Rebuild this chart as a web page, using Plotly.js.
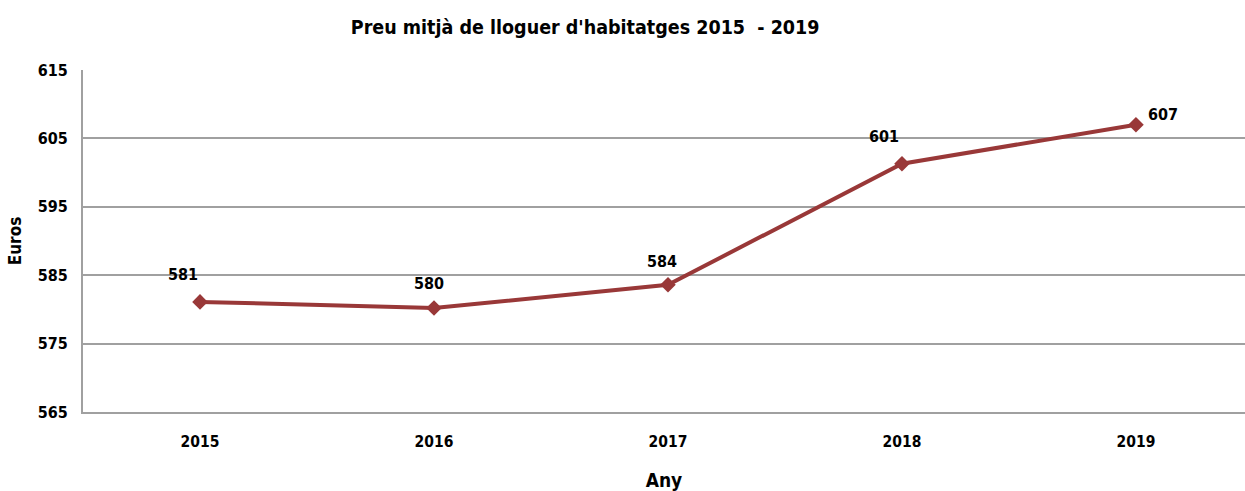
<!DOCTYPE html>
<html>
<head>
<meta charset="utf-8">
<script src="https://cdn.plot.ly/plotly-3.0.1.min.js"></script>
<style>
  html, body { margin: 0; padding: 0; background: white; }
  #chart { width: 1245px; height: 491px; }
</style>
</head>
<body>
<div id="chart"></div>
<script>
// Preu mitjà de lloguer (euros), llegit del gràfic
const years = ['2015', '2016', '2017', '2018', '2019'];
const rent = [581.1, 580.2, 583.6, 601.3, 607.0];
const yTicks = [565, 575, 585, 595, 605, 615];
// label offsets in px (x right, y up) relative to each point
const labelDx = [-17, -5, -6, -18, 27];
const labelDy = [27, 25, 23, 27, 10];

const FONT = '"DejaVu Sans Condensed", "Liberation Sans", Arial, sans-serif';
const LINE_COLOR = '#993838';
const GRID = '#a0a0a0';

const data = [{
  type: 'scatter',
  mode: 'lines+markers',
  x: years,
  y: rent,
  line: { color: LINE_COLOR, width: 4 },
  marker: { symbol: 'diamond', size: 12, color: LINE_COLOR },
  cliponaxis: false,
  hoverinfo: 'skip',
}];

// category axis: annotations use the category index
const annotations = years.map((yr, i) => ({
  x: i,
  y: rent[i],
  xref: 'x',
  yref: 'y',
  text: '<b>' + Math.round(rent[i]) + '</b>',
  showarrow: false,
  xshift: labelDx[i],
  yshift: labelDy[i],
  font: { family: FONT, size: 16, color: '#000' },
}));

const layout = {
  width: 1245,
  height: 491,
  font: { family: FONT, color: '#000', size: 15 },
  paper_bgcolor: 'white',
  plot_bgcolor: 'white',
  showlegend: false,
  margin: { t: 70, r: 0, b: 79, l: 83 },
  annotations: annotations,
  title: {
    text: "<b>Preu mitjà de lloguer d'habitatges 2015  - 2019</b>",
    font: { family: FONT, size: 19.5 },
    x: 0.47, xanchor: 'center',
    y: 0.945, yanchor: 'middle',
  },
  xaxis: {
    type: 'category',
    range: [-0.5, 4.466],
    showgrid: false,
    showline: true,
    linecolor: GRID,
    linewidth: 2,
    zeroline: false,
    ticks: '',
    ticklabelstandoff: 14,
    tickfont: { family: FONT, size: 15.5 },
    tickprefix: '<b>', ticksuffix: '</b>',
    title: { text: '<b>Any</b>', font: { family: FONT, size: 19 }, standoff: 26 },
  },
  yaxis: {
    range: [565, 615],
    tickvals: yTicks,
    ticktext: yTicks.map(v => '<b>' + v + '</b>'),
    showgrid: true,
    gridcolor: GRID,
    gridwidth: 2,
    showline: true,
    linecolor: GRID,
    linewidth: 2,
    zeroline: false,
    ticks: '',
    ticklabelstandoff: 10,
    tickfont: { family: FONT, size: 16 },
    title: { text: '<b>Euros</b>', font: { family: FONT, size: 17 }, standoff: 12 },
  },
};

Plotly.newPlot('chart', data, layout, { displayModeBar: false, staticPlot: true });
</script>
</body>
</html>
